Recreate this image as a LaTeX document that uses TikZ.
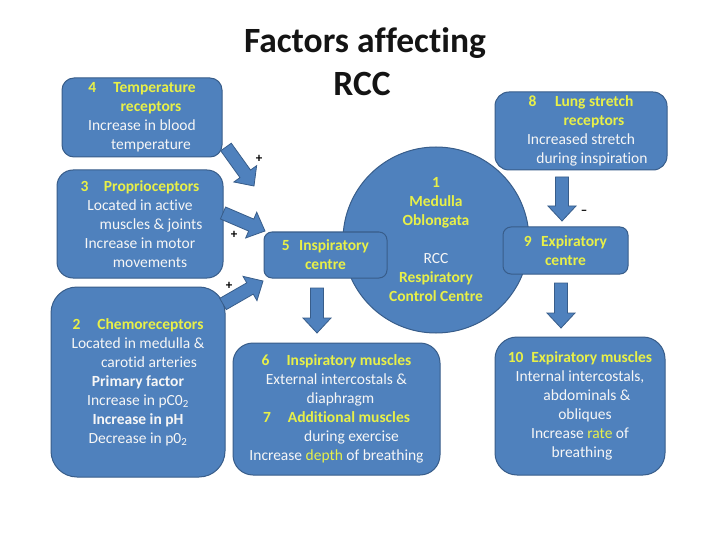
\documentclass[tikz,border=0pt]{standalone}
\usepackage{fontspec}
\setmainfont[Ligatures={TeX,NoCommon}]{Carlito}
\usetikzlibrary{calc}
\definecolor{boxblue}{RGB}{79,129,189}
\definecolor{boxline}{RGB}{56,93,138}
\definecolor{hl}{RGB}{232,240,72}
\definecolor{bodytxt}{RGB}{246,246,246}
\definecolor{titletxt}{RGB}{20,20,20}
\newcommand{\hy}[1]{\textcolor{hl}{\textbf{#1}}}
\newcommand{\hyr}[1]{\textcolor{hl}{#1}}
\newcommand{\blockarrow}[2]{%
  \coordinate (bah) at ($(#2)!15pt!(#1)$);
  \filldraw[arrowblk] ($(#1)!6.5pt!90:(#2)$) -- ($(bah)!6.5pt!90:(#2)$) -- ($(bah)!14pt!90:(#2)$) -- (#2) -- ($(bah)!14pt!-90:(#2)$) -- ($(bah)!6.5pt!-90:(#2)$) -- ($(#1)!6.5pt!-90:(#2)$) -- cycle;
}
\begin{document}
\begin{tikzpicture}[x=1pt,y=-1pt,
  box/.style={draw=boxline, line width=1pt, fill=boxblue, text=bodytxt, align=center,
    font=\fontsize{15.5}{19}\selectfont, inner sep=0pt},
  arrowblk/.style={fill=boxblue, draw=boxline, line width=0.8pt, line join=miter},
  sign/.style={font=\fontsize{13}{13}\selectfont\bfseries, text=black, inner sep=0pt},
  titlestyle/.style={font=\fontsize{35.5}{43}\selectfont\bfseries, text=titletxt, anchor=base, inner sep=0pt}
]
\useasboundingbox (0,0) rectangle (720,540);
\fill[white] (0,0) rectangle (720,540);

% title
\node[titlestyle] (t1) at (365,53) {Factors affecting};
\node[titlestyle] (t2) at (362,96) {RCC};

% central circle
\node[box, circle, minimum size=186pt] (rcc) at (436,240)
  {\hy{1}\\ \hy{Medulla}\\ \hy{Oblongata}\\[19pt] RCC\\ \hy{Respiratory}\\ \hy{Control Centre}};

% left boxes
\node[box, rounded corners=12pt, minimum width=160pt, minimum height=79pt] (b4) at (142,117.5)
  {\hy{4\hspace{1.1em}Temperature}\\ \hspace*{18pt}\hy{receptors}\\ Increase in blood\\ \hspace*{18pt}temperature};
\node[box, rounded corners=16pt, minimum width=166pt, minimum height=108pt] (b3) at (140,224)
  {\hy{3\hspace{1em}Proprioceptors}\\ Located in active\\ \hspace*{22pt}muscles \& joints\\ Increase in motor\\ \hspace*{20pt}movements};
\node[box, rounded corners=26pt, minimum width=174pt, minimum height=190pt] (b2) at (138,382)
  {\hy{2\hspace{1.1em}Chemoreceptors}\\ Located in medulla \&\\ \hspace*{22pt}carotid arteries\\ \textbf{Primary factor}\\ Increase in pC0\textsubscript{2}\\ \textbf{Increase in pH}\\ Decrease in p0\textsubscript{2}};

% centre boxes
\node[box, rounded corners=8pt, minimum width=123pt, minimum height=46pt] (b5) at (325.5,255)
  {\hy{5\hspace{0.6em}Inspiratory}\\ \hy{centre}};
\node[box, rounded corners=20pt, minimum width=207pt, minimum height=132pt] (b6) at (336.5,409)
  {\hy{6\hspace{1.1em}Inspiratory muscles}\\ External intercostals \&\\ \hspace*{8pt}diaphragm\\ \hy{7\hspace{1.1em}Additional muscles}\\ \hspace*{30pt}during exercise\\ Increase \hyr{depth} of breathing};

% right boxes
\node[box, rounded corners=14pt, minimum width=172pt, minimum height=78pt] (b8) at (581,131)
  {\hy{8\hspace{1.2em}Lung stretch}\\ \hspace*{26pt}\hy{receptors}\\ Increased stretch\\ \hspace*{22pt}during inspiration};
\node[box, rounded corners=8pt, minimum width=125pt, minimum height=47pt] (b9) at (565.5,250.5)
  {\hy{9\hspace{0.6em}Expiratory}\\ \hy{centre}};
\node[box, rounded corners=22pt, minimum width=170pt, minimum height=138pt] (b10) at (580,406)
  {\hy{10\hspace{0.5em}Expiratory muscles}\\ Internal intercostals,\\ \hspace*{14pt}abdominals \&\\ \hspace*{10pt}obliques\\ Increase \hyr{rate} of\\ \hspace*{4pt}breathing};

% block arrows
\coordinate (a1s) at (226,147);  \coordinate (a1e) at (254,186);
\coordinate (a2s) at (223,213);  \coordinate (a2e) at (265,231);
\coordinate (a3s) at (223,304);  \coordinate (a3e) at (263,281);
\coordinate (a4s) at (317,288);  \coordinate (a4e) at (317,333);
\coordinate (a5s) at (562,177);  \coordinate (a5e) at (562,221);
\coordinate (a6s) at (561,283);  \coordinate (a6e) at (561,328);
\blockarrow{a1s}{a1e}
\blockarrow{a2s}{a2e}
\blockarrow{a3s}{a3e}
\blockarrow{a4s}{a4e}
\blockarrow{a5s}{a5e}
\blockarrow{a6s}{a6e}

% signs
\node[sign] (s1) at (259,159) {+};
\node[sign] (s2) at (234,235) {+};
\node[sign] (s3) at (229,286) {+};
\node[sign] (s4) at (584,212) {\textendash};
\end{tikzpicture}
\end{document}
